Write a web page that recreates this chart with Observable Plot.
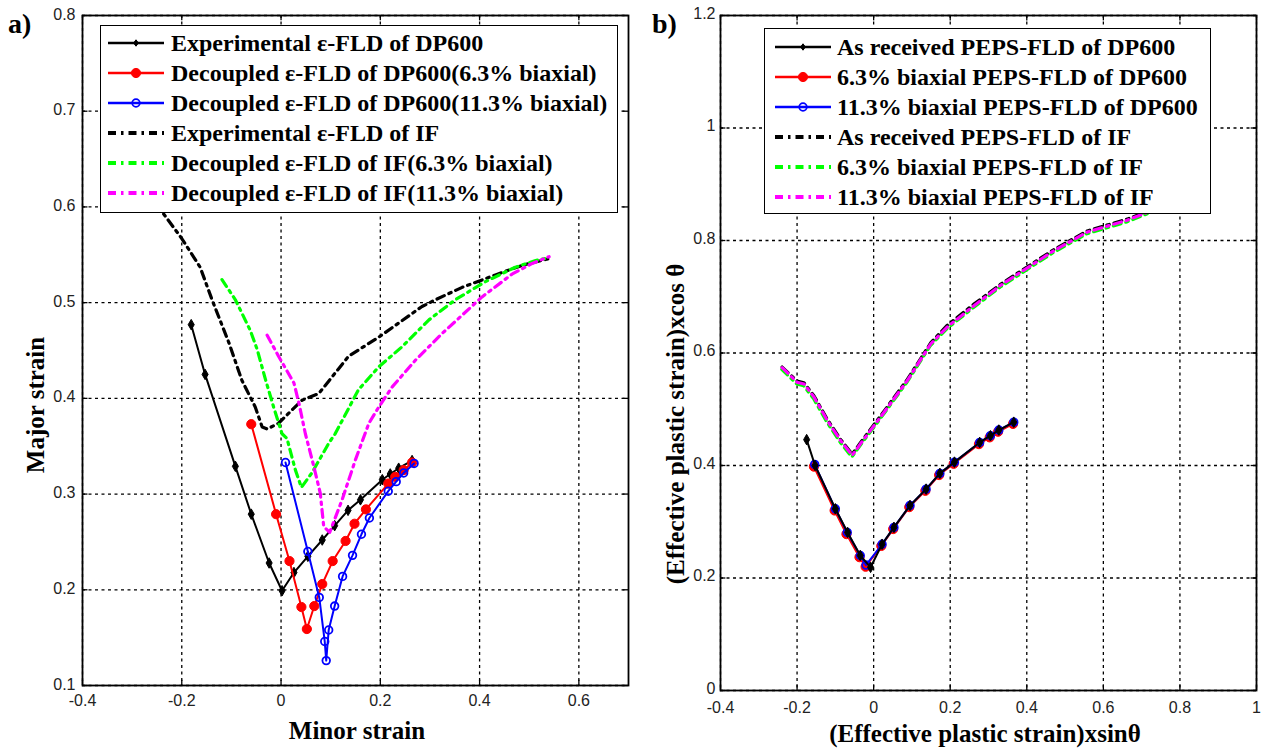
<!DOCTYPE html>
<html><head><meta charset="utf-8">
<script src="https://cdn.jsdelivr.net/npm/d3@7"></script>
<script src="https://cdn.jsdelivr.net/npm/@observablehq/plot@0.6"></script>
<style>
body{margin:0;background:#fff;}
#root{position:relative;width:1263px;height:748px;overflow:hidden;background:#fff;}
.pl{position:absolute;top:0;}
.legend{position:absolute;background:#fff;border:1.5px solid #000;box-sizing:border-box;}
.row{display:flex;align-items:center;height:30px;}
.row svg{flex:none;}
.lt{font:bold 24px "Liberation Serif",serif;white-space:nowrap;color:#000;}
.title{position:absolute;font:bold 25px "Liberation Serif",serif;white-space:nowrap;color:#000;transform:translate(-50%,-50%);}
.ytitle{position:absolute;font:bold 25px "Liberation Serif",serif;white-space:nowrap;color:#000;transform:translate(-50%,-50%) rotate(-90deg);}
.panel{position:absolute;font:bold 28px "Liberation Serif",serif;color:#000;}
</style></head>
<body><div id="root"></div>
<script>
// ---------- Panel a) data ----------
const aXTicks = [-0.4, -0.2, 0, 0.2, 0.4, 0.6];
const aYTicks = [0.1, 0.2, 0.3, 0.4, 0.5, 0.6, 0.7, 0.8];
const aLabels = ["Experimental ε-FLD of DP600","Decoupled ε-FLD of DP600(6.3% biaxial)","Decoupled ε-FLD of DP600(11.3% biaxial)","Experimental ε-FLD of IF","Decoupled ε-FLD of IF(6.3% biaxial)","Decoupled ε-FLD of IF(11.3% biaxial)"];

const aExpDPx = [-0.181,-0.153,-0.092,-0.060,-0.024,0.002,0.026,0.054,0.083,0.108,0.135,0.160,0.204,0.220,0.237,0.264];
const aExpDPy = [0.477,0.425,0.329,0.279,0.228,0.199,0.218,0.235,0.252,0.267,0.283,0.294,0.315,0.321,0.327,0.335];
const aDP63x = [-0.060,-0.010,0.017,0.041,0.052,0.067,0.083,0.104,0.130,0.148,0.171,0.216,0.230,0.247,0.264];
const aDP63y = [0.373,0.279,0.230,0.182,0.159,0.183,0.206,0.230,0.251,0.269,0.284,0.311,0.318,0.325,0.333];
const aDP113x = [0.009,0.054,0.077,0.088,0.091,0.096,0.108,0.124,0.144,0.162,0.178,0.216,0.232,0.247,0.268];
const aDP113y = [0.333,0.240,0.192,0.146,0.126,0.158,0.183,0.214,0.236,0.258,0.275,0.303,0.313,0.322,0.332];
const aExpIFx = [-0.262,-0.237,-0.200,-0.163,-0.139,-0.105,-0.079,-0.052,-0.038,-0.028,-0.005,0.042,0.076,0.136,0.197,0.284,0.311,0.365,0.432,0.486,0.540];
const aExpIFy = [0.625,0.593,0.567,0.537,0.503,0.458,0.419,0.391,0.370,0.368,0.374,0.398,0.405,0.444,0.464,0.496,0.503,0.516,0.529,0.539,0.546];
const aIF63x = [-0.119,-0.092,-0.062,-0.048,-0.031,-0.015,0.002,0.012,0.029,0.041,0.062,0.096,0.109,0.156,0.197,0.244,0.298,0.351,0.412,0.472,0.513,0.540];
const aIF63y = [0.524,0.503,0.471,0.451,0.419,0.391,0.363,0.358,0.325,0.307,0.322,0.353,0.363,0.409,0.433,0.454,0.482,0.503,0.522,0.537,0.544,0.547];
const aIF113x = [-0.028,-0.005,0.026,0.036,0.049,0.066,0.079,0.086,0.098,0.123,0.150,0.177,0.197,0.224,0.271,0.325,0.405,0.466,0.506,0.540];
const aIF113y = [0.466,0.444,0.416,0.395,0.363,0.329,0.301,0.266,0.260,0.294,0.336,0.374,0.391,0.412,0.440,0.468,0.506,0.530,0.541,0.548];

// ---------- Panel b) data ----------
const bXTicks = [-0.4, -0.2, 0, 0.2, 0.4, 0.6, 0.8, 1];
const bYTicks = [0, 0.2, 0.4, 0.6, 0.8, 1, 1.2];
const bLabels = ["As received PEPS-FLD of DP600","6.3% biaxial PEPS-FLD of DP600","11.3% biaxial PEPS-FLD of DP600","As received PEPS-FLD of IF","6.3% biaxial PEPS-FLD of IF","11.3% biaxial PEPS-FLD of IF"];

const bAsDPx = [-0.175,-0.153,-0.100,-0.068,-0.035,-0.008,0.022,0.053,0.095,0.137,0.173,0.211,0.277,0.305,0.327,0.366];
const bAsDPy = [0.446,0.400,0.323,0.281,0.240,0.219,0.260,0.290,0.329,0.358,0.386,0.406,0.441,0.453,0.463,0.477];
const bDP63x = [-0.156,-0.102,-0.071,-0.037,-0.021,0.020,0.051,0.093,0.135,0.171,0.209,0.275,0.303,0.325,0.364];
const bDP63y = [0.398,0.320,0.278,0.237,0.220,0.257,0.287,0.326,0.355,0.383,0.403,0.438,0.450,0.460,0.474];
const bDP113x = [-0.154,-0.100,-0.069,-0.035,-0.020,0.022,0.053,0.095,0.137,0.173,0.211,0.277,0.305,0.327,0.366];
const bDP113y = [0.402,0.323,0.281,0.240,0.223,0.260,0.290,0.329,0.358,0.386,0.406,0.441,0.453,0.463,0.477];
const bAsIFx = [-0.239,-0.200,-0.182,-0.156,-0.121,-0.086,-0.056,-0.034,0.018,0.088,0.149,0.192,0.262,0.331,0.419,0.471,0.558,0.662,0.760];
const bAsIFy = [0.575,0.550,0.547,0.524,0.482,0.446,0.420,0.441,0.488,0.553,0.618,0.649,0.687,0.722,0.761,0.784,0.817,0.838,0.864];
const bIF63x = [-0.240,-0.201,-0.183,-0.157,-0.122,-0.087,-0.057,-0.035,0.017,0.087,0.148,0.191,0.261,0.330,0.418,0.470,0.557,0.661,0.760];
const bIF63y = [0.571,0.545,0.542,0.519,0.477,0.441,0.415,0.436,0.483,0.548,0.613,0.643,0.681,0.717,0.756,0.779,0.812,0.833,0.860];
const bIF113x = [-0.239,-0.200,-0.182,-0.156,-0.121,-0.086,-0.056,-0.034,0.018,0.088,0.149,0.192,0.262,0.331,0.419,0.471,0.558,0.662,0.760];
const bIF113y = [0.574,0.548,0.545,0.522,0.480,0.444,0.418,0.439,0.486,0.551,0.616,0.646,0.684,0.720,0.759,0.782,0.815,0.836,0.862];

// ---------- styles ----------
const DASHDOT = "8,5,2.5,5";
const sBlackSolid = {stroke:"#000", width:2, dash:null, marker:{symbol:"diamond", r:3.2, fill:"#000", stroke:"#000", sw:1}};
const sRedSolid = {stroke:"#ff0000", width:2, dash:null, marker:{symbol:"circle", r:4.6, fill:"#ff0000", stroke:"#ff0000", sw:1}};
const sBlueSolid = {stroke:"#0000ff", width:2, dash:null, marker:{symbol:"circle", r:3.8, fill:"none", stroke:"#0000ff", sw:1.8}};
const sBlackDD = {stroke:"#000", width:3.2, dash:DASHDOT, marker:null};
const sGreenDD = {stroke:"#00ff00", width:3.2, dash:DASHDOT, marker:null};
const sMagDD = {stroke:"#ff00ff", width:3.2, dash:DASHDOT, marker:null};

const rows = (xs, ys) => xs.map((x, i) => ({x, y: ys[i]}));

function panel({width, margins, xdom, ydom, xticks, yticks, series, yPad, xPad, yDy}) {
  const dy = (ydom[1]-ydom[0])*0.008, dx = (xdom[1]-xdom[0])*0.01;
  const marks = [
    Plot.gridX(xticks, {stroke:"#000", strokeOpacity:1, strokeWidth:1.3, strokeDasharray:"3,3.5"}),
    Plot.gridY(yticks, {stroke:"#000", strokeOpacity:1, strokeWidth:1.3, strokeDasharray:"3,3.5"}),
    Plot.ruleX(xticks, {x:d=>d, y1:ydom[0], y2:ydom[0]+dy, stroke:"#000", strokeWidth:1.3}),
    Plot.ruleX(xticks, {x:d=>d, y1:ydom[1], y2:ydom[1]-dy, stroke:"#000", strokeWidth:1.3}),
    Plot.ruleY(yticks, {y:d=>d, x1:xdom[0], x2:xdom[0]+dx, stroke:"#000", strokeWidth:1.3}),
    Plot.ruleY(yticks, {y:d=>d, x1:xdom[1], x2:xdom[1]-dx, stroke:"#000", strokeWidth:1.3}),
    Plot.axisX({ticks:xticks, tickSize:0, tickPadding:xPad, fontSize:16, fontFamily:"Liberation Sans", fill:"#222", tickFormat:d=>String(d), label:null}),
    Plot.axisY({ticks:yticks, tickSize:0, tickPadding:yPad, dy:yDy, fontSize:16, fontFamily:"Liberation Sans", fill:"#222", tickFormat:d=>String(d), label:null})
  ];
  for (const s of series) {
    const data = rows(s.x, s.y);
    marks.push(Plot.line(data, {x:"x", y:"y", stroke:s.style.stroke, strokeWidth:s.style.width, strokeDasharray:s.style.dash, curve:"linear", strokeLinejoin:"round"}));
    if (s.style.marker) {
      const m = s.style.marker;
      marks.push(Plot.dot(data, {x:"x", y:"y", symbol:m.symbol, r:m.r, fill:m.fill, stroke:m.stroke, strokeWidth:m.sw}));
    }
  }
  marks.push(Plot.frame({stroke:"#000", strokeWidth:1.8}));
  return Plot.plot({
    width, height:748,
    marginLeft:margins[0], marginRight:margins[1], marginTop:margins[2], marginBottom:margins[3],
    x:{domain:xdom}, y:{domain:ydom},
    style:{background:"transparent", overflow:"visible"},
    marks
  });
}

const root = document.getElementById("root");

const plotA = panel({
  width:640, margins:[82,12,15,63], xdom:[-0.4,0.7], ydom:[0.1,0.8], xticks:aXTicks, yticks:aYTicks, yPad:7, xPad:9, yDy:-1,
  series:[
    {x:aExpDPx, y:aExpDPy, style:sBlackSolid},
    {x:aDP63x, y:aDP63y, style:sRedSolid},
    {x:aDP113x, y:aDP113y, style:sBlueSolid},
    {x:aExpIFx, y:aExpIFy, style:sBlackDD},
    {x:aIF63x, y:aIF63y, style:sGreenDD},
    {x:aIF113x, y:aIF113y, style:sMagDD}
  ]
});
plotA.classList.add("pl"); plotA.style.left = "0px";
root.appendChild(plotA);

const plotB = panel({
  width:623, margins:[80,7,15,58], xdom:[-0.4,1], ydom:[0,1.2], xticks:bXTicks, yticks:bYTicks, yPad:5, xPad:11, yDy:-2,
  series:[
    {x:bDP63x, y:bDP63y, style:sRedSolid},
    {x:bDP113x, y:bDP113y, style:sBlueSolid},
    {x:bAsDPx, y:bAsDPy, style:sBlackSolid},
    {x:bAsIFx, y:bAsIFy, style:sBlackDD},
    {x:bIF63x, y:bIF63y, style:sGreenDD},
    {x:bIF113x, y:bIF113y, style:sMagDD}
  ]
});
plotB.classList.add("pl"); plotB.style.left = "640px";
root.appendChild(plotB);

// ---------- legends ----------
function sample(style) {
  const ns = "http://www.w3.org/2000/svg";
  const svg = document.createElementNS(ns, "svg");
  svg.setAttribute("width", 56); svg.setAttribute("height", 14);
  const l = document.createElementNS(ns, "line");
  l.setAttribute("x1", 0); l.setAttribute("x2", 56); l.setAttribute("y1", 7); l.setAttribute("y2", 7);
  l.setAttribute("stroke", style.stroke); l.setAttribute("stroke-width", style.width + 0.6);
  if (style.dash) l.setAttribute("stroke-dasharray", style.dash);
  svg.appendChild(l);
  if (style.marker) {
    const m = style.marker;
    let el;
    if (m.symbol === "diamond") {
      el = document.createElementNS(ns, "path");
      const r = m.r;
      el.setAttribute("d", `M28,${7-r}L${28+r*0.75},7L28,${7+r}L${28-r*0.75},7Z`);
    } else {
      el = document.createElementNS(ns, "circle");
      el.setAttribute("cx", 28); el.setAttribute("cy", 7); el.setAttribute("r", m.r);
    }
    el.setAttribute("fill", m.fill); el.setAttribute("stroke", m.stroke); el.setAttribute("stroke-width", m.sw);
    svg.appendChild(el);
  }
  return svg;
}
function legend(labels, styles, box, gapLine, gapText) {
  const d = document.createElement("div");
  d.className = "legend";
  Object.assign(d.style, {left:box[0]+"px", top:box[1]+"px", width:box[2]+"px", height:box[3]+"px", paddingTop:box[4]+"px"});
  labels.forEach((t, i) => {
    const r = document.createElement("div"); r.className = "row";
    const s = sample(styles[i]); s.style.marginLeft = gapLine + "px";
    const tx = document.createElement("span"); tx.className = "lt"; tx.textContent = t; tx.style.marginLeft = gapText + "px";
    r.appendChild(s); r.appendChild(tx); d.appendChild(r);
  });
  root.appendChild(d);
}
const legendStyles = [sBlackSolid, sRedSolid, sBlueSolid, sBlackDD, sGreenDD, sMagDD];
legend(aLabels, legendStyles, [100,25,518,188,2], 7, 7);
legend(bLabels, legendStyles, [764,28,447,186,3], 10, 6);

// ---------- titles ----------
function txt(cls, t, x, y) {
  const d = document.createElement("div"); d.className = cls; d.textContent = t;
  d.style.left = x + "px"; d.style.top = y + "px"; root.appendChild(d); return d;
}
txt("title", "Minor strain", 357, 731);
txt("title", "(Effective plastic strain)xsinθ", 985, 734);
txt("ytitle", "Major strain", 36, 405);
txt("ytitle", "(Effective plastic strain)xcos θ", 676, 424);
const pa = txt("panel", "a)", 0, 0); pa.style.left = "8px"; pa.style.top = "8px";
const pb = txt("panel", "b)", 0, 0); pb.style.left = "652px"; pb.style.top = "8px";
</script>
</body></html>
